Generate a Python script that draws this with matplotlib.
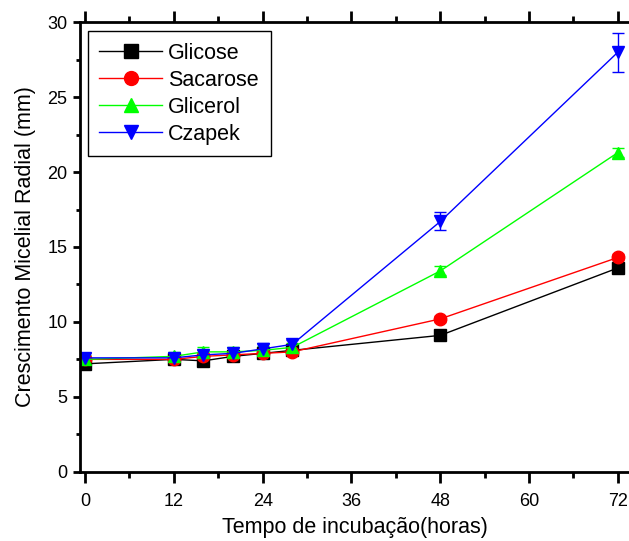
import matplotlib
matplotlib.use("Agg")
import matplotlib.pyplot as plt
from matplotlib.lines import Line2D
from matplotlib.ticker import MultipleLocator

plt.rcParams["font.family"] = ["Liberation Sans", "DejaVu Sans"]

horas = [0, 12, 16, 20, 24, 28, 48, 72]
glicose = [7.2, 7.5, 7.4, 7.7, 7.9, 8.1, 9.1, 13.6]
sacarose = [7.5, 7.5, 7.7, 7.8, 7.9, 8.0, 10.2, 14.3]
glicerol = [7.5, 7.7, 8.0, 8.0, 8.1, 8.3, 13.4, 21.3]
czapek = [7.6, 7.6, 7.8, 7.9, 8.2, 8.5, 16.7, 28.0]
err_glicose = [0.2, 0.2, 0.2, 0.2, 0.2, 0.2, 0.2, 0.2]
err_sacarose = [0.2, 0.2, 0.2, 0.2, 0.2, 0.2, 0.2, 0.2]
err_glicerol = [0.3, 0.3, 0.3, 0.3, 0.3, 0.3, 0.3, 0.3]
err_czapek = [0.3, 0.2, 0.3, 0.2, 0.4, 0.3, 0.6, 1.3]

series = [
    ("Glicose", glicose, err_glicose, "black", "s"),
    ("Sacarose", sacarose, err_sacarose, "red", "o"),
    ("Glicerol", glicerol, err_glicerol, "#00ff00", "^"),
    ("Czapek", czapek, err_czapek, "blue", "v"),
]

fig = plt.figure(figsize=(6.29, 5.41), dpi=100)
ax = fig.add_axes([0.127, 0.128, 0.873, 0.831])

handles = []
for label, values, errs, color, marker in series:
    ax.errorbar(horas, values, yerr=errs, color=color, marker=marker,
                markersize=9, linewidth=1, elinewidth=1, capsize=4)
    handles.append(Line2D([], [], color=color, marker=marker, markersize=10,
                          linewidth=1, label=label))

ax.set_xlim(-0.7, 73.5)
ax.set_ylim(0, 30)
ax.xaxis.set_major_locator(MultipleLocator(12))
ax.xaxis.set_minor_locator(MultipleLocator(6))
ax.yaxis.set_major_locator(MultipleLocator(5))
ax.yaxis.set_minor_locator(MultipleLocator(2.5))
ax.tick_params(which="both", direction="out", width=2, labelsize=13,
               right=False)
ax.tick_params(axis="y", which="major", length=5, pad=4)
ax.tick_params(axis="y", which="minor", length=3)
ax.tick_params(axis="x", which="both", top=True, width=1, length=2)
ax.tick_params(axis="x", which="major", bottom=True, width=2, length=8, pad=7)
ax.tick_params(axis="x", which="minor", bottom=True, width=2, length=4)
for side in ["left", "bottom", "top"]:
    ax.spines[side].set_linewidth(2)
ax.spines["right"].set_visible(False)

ax.set_xlabel("Tempo de incubação(horas)", fontsize=15.5, labelpad=5)
ax.set_ylabel("Crescimento Micelial Radial (mm)", fontsize=15.5, labelpad=8)

leg = ax.legend(handles=handles, loc="upper left",
                bbox_to_anchor=(0.014, 0.981), numpoints=1,
                fontsize=15.5, fancybox=False, edgecolor="black",
                handlelength=2.9, handletextpad=0.3, labelspacing=0.28,
                borderpad=0.55, borderaxespad=0, framealpha=1)
leg.get_frame().set_linewidth(1)

fig.savefig("out.png", dpi=100)
